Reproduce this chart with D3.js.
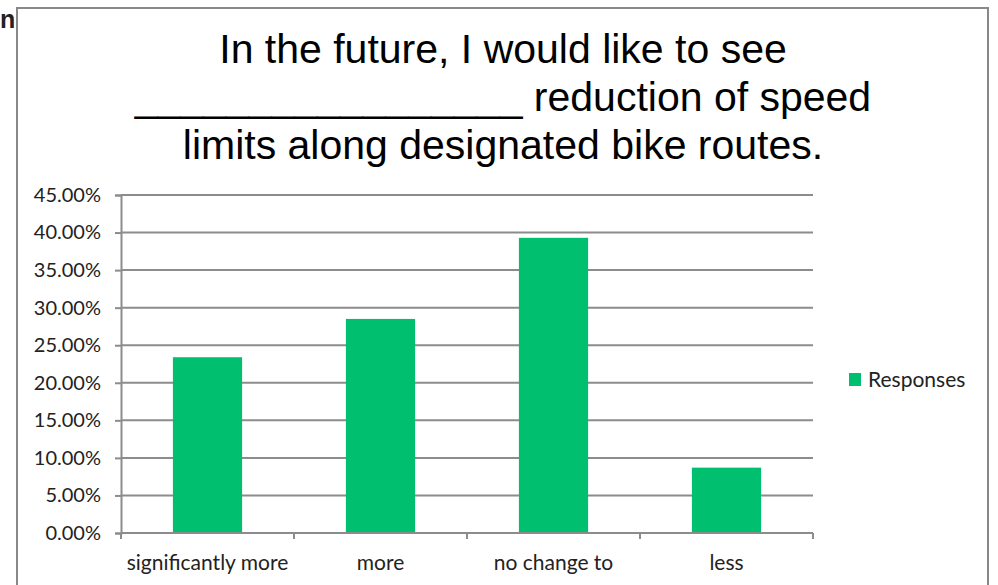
<!DOCTYPE html>
<html>
<head>
<meta charset="utf-8">
<script src="https://cdn.jsdelivr.net/npm/d3@7"></script>
<style>
  body { margin: 0; background: #fff; }
  svg { display: block; }
</style>
</head>
<body>
<svg id="chart" width="998" height="585"></svg>
<script>
const categories = ['significantly more', 'more', 'no change to', 'less'];
const responses = [0.234, 0.285, 0.393, 0.087];
const yTicks = [0, 0.05, 0.10, 0.15, 0.20, 0.25, 0.30, 0.35, 0.40, 0.45];
const titleLines = [
  'In the future, I would like to see',
  '_________________ reduction of speed',
  'limits along designated bike routes.'
];
const seriesName = 'Responses';

const svg = d3.select('#chart');
const green = '#00bf6f';
const gridColor = '#8c8c8c';
const labelFont = 'Lato, "Open Sans", sans-serif';

// stray text from the page behind the chart image
svg.append('text')
  .attr('x', 0).attr('y', 28)
  .style('font-family', 'Liberation Sans, Arial, sans-serif')
  .style('font-weight', 'bold')
  .style('font-size', '25px')
  .attr('fill', '#222')
  .text('n');

// chart frame
svg.append('rect')
  .attr('x', 17).attr('y', 8)
  .attr('width', 971).attr('height', 600)
  .attr('fill', '#fff')
  .attr('stroke', '#888')
  .attr('stroke-width', 2);

const title = svg.append('g')
  .style('font-family', '"Liberation Sans", Arial, sans-serif')
  .style('font-size', '41px')
  .attr('text-anchor', 'middle');

title.selectAll('text')
  .data(titleLines)
  .enter()
  .append('text')
  .attr('x', 503)
  .attr('y', (d, i) => 63 + i * 48)
  .text(d => d);

const x = d3.scaleBand()
  .domain(categories)
  .range([121, 813])
  .paddingInner(0.6)
  .paddingOuter(0.3);

const y = d3.scaleLinear()
  .domain([0, 0.45])
  .range([533, 195]);

// gridlines
svg.append('g')
  .selectAll('line')
  .data(yTicks.slice(1))
  .enter()
  .append('line')
  .attr('x1', 121).attr('x2', 813)
  .attr('y1', d => y(d)).attr('y2', d => y(d))
  .attr('stroke', gridColor)
  .attr('stroke-width', 2);

// y axis
const yAxis = svg.append('g')
  .attr('transform', 'translate(121,0)')
  .call(d3.axisLeft(y).tickValues(yTicks).tickSize(6).tickPadding(14)
    .tickFormat(d => (d * 100).toFixed(2) + '%'));
yAxis.select('.domain').attr('stroke', gridColor).attr('stroke-width', 2);
yAxis.selectAll('.tick line').attr('stroke', gridColor).attr('stroke-width', 2);
yAxis.selectAll('.tick text')
  .style('font-family', labelFont)
  .style('font-size', '20px')
  .attr('fill', '#222');

// bars
svg.append('g')
  .selectAll('rect')
  .data(responses)
  .enter()
  .append('rect')
  .attr('x', (d, i) => x(categories[i]))
  .attr('y', d => y(d))
  .attr('width', x.bandwidth())
  .attr('height', d => y(0) - y(d))
  .attr('fill', green);

// x axis
const step = x.step();
const boundaries = d3.range(categories.length + 1).map(i => 121 + i * step);
svg.append('line')
  .attr('x1', 121).attr('x2', 813)
  .attr('y1', y(0)).attr('y2', y(0))
  .attr('stroke', gridColor).attr('stroke-width', 2);
svg.append('g')
  .selectAll('line')
  .data(boundaries)
  .enter()
  .append('line')
  .attr('x1', d => d).attr('x2', d => d)
  .attr('y1', y(0)).attr('y2', y(0) + 6)
  .attr('stroke', gridColor).attr('stroke-width', 2);

svg.append('g')
  .selectAll('text')
  .data(categories)
  .enter()
  .append('text')
  .attr('x', d => x(d) + x.bandwidth() / 2)
  .attr('y', 570)
  .attr('text-anchor', 'middle')
  .style('font-family', labelFont)
  .style('font-size', '21px')
  .attr('fill', '#222')
  .text(d => d);

// legend
const legend = svg.append('g').attr('transform', 'translate(849,373)');
legend.append('rect')
  .attr('width', 12).attr('height', 13)
  .attr('fill', green);
legend.append('text')
  .attr('x', 19).attr('y', 14)
  .style('font-family', labelFont)
  .style('font-size', '21px')
  .attr('fill', '#222')
  .text(seriesName);
</script>
</body>
</html>
